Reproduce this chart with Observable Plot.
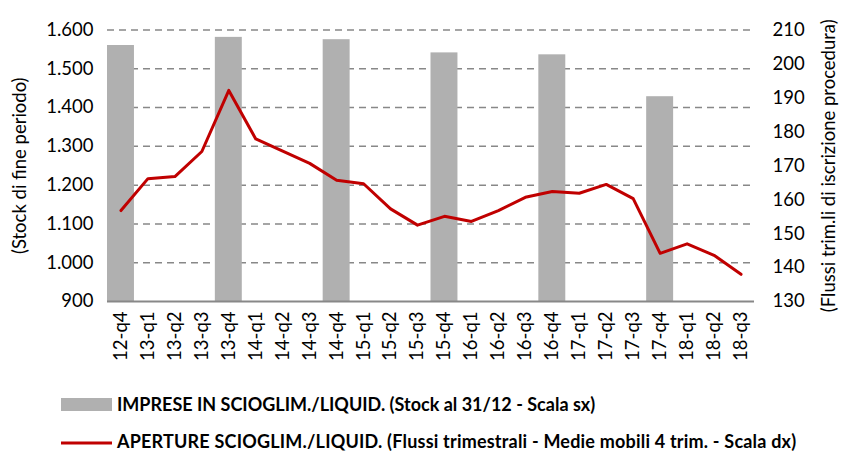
<!DOCTYPE html>
<html><head><meta charset="utf-8">
<script src="https://cdn.jsdelivr.net/npm/d3@7"></script>
<script src="https://cdn.jsdelivr.net/npm/@observablehq/plot@0.6"></script>
<style>
body{margin:0;background:#fff;}
#chart svg{display:block;}
</style></head><body><div id="chart"></div><div id="legend"></div>
<script>
const quarters = ["12-q4","13-q1","13-q2","13-q3","13-q4","14-q1","14-q2","14-q3","14-q4","15-q1","15-q2","15-q3","15-q4","16-q1","16-q2","16-q3","16-q4","17-q1","17-q2","17-q3","17-q4","18-q1","18-q2","18-q3"];
const stockQuarters = ["12-q4","13-q4","14-q4","15-q4","16-q4","17-q4"];
const stockValues = [1560,1581,1575,1541,1536,1428];
const flowValues = [156.8,166.2,166.8,174.2,192.2,177.9,174.3,170.7,165.7,164.7,157.3,152.5,155.1,153.6,156.8,160.7,162.4,161.9,164.5,160.3,144.2,147.0,143.6,138.0];
const leftTicks = [900,1000,1100,1200,1300,1400,1500,1600];
const rightTicks = [130,140,150,160,170,180,190,200,210];
const stockName = "IMPRESE IN SCIOGLIM./LIQUID. (Stock al 31/12 - Scala sx)";
const flowName = "APERTURE SCIOGLIM./LIQUID. (Flussi trimestrali - Medie mobili 4 trim. - Scala dx)";

const toLeft = v => 900 + (v - 130) * 700 / 80;
const toRight = y => 130 + (y - 900) * 80 / 700;
const itFmt = d => d >= 1000 ? d3.format(",")(d).replace(",", ".") : String(d);

const stock = stockQuarters.map((q, i) => ({q, v: stockValues[i]}));
const flow = quarters.map((q, i) => ({q, v: flowValues[i]}));

const FS = 18.5;
const chart = Plot.plot({
  width: 842, height: 383,
  marginTop: 29.5, marginBottom: 82, marginLeft: 107, marginRight: 88,
  style: {fontFamily: "Lato, sans-serif", fontSize: FS + "px", color: "#000", background: "#fff"},
  x: {type: "band", domain: quarters, padding: 0, round: false},
  y: {domain: [900, 1600]},
  marks: [
    Plot.ruleY(leftTicks.filter(d => d > 900), {stroke: "#888", strokeWidth: 1.5, strokeDasharray: "7,5"}),
    Plot.barY(stock, {x: "q", y1: () => 900, y2: "v", fill: "#b0b0b0"}),
    Plot.ruleY([900], {stroke: "#888", strokeWidth: 2}),
    Plot.line(flow, {x: "q", y: d => toLeft(d.v), stroke: "#c00000", strokeWidth: 3}),
    Plot.axisX({tickRotate: -90, tickSize: 0, tickPadding: 10, fontSize: FS, label: null}),
    Plot.axisY({anchor: "left", ticks: leftTicks, tickFormat: itFmt, tickSize: 0, tickPadding: 14, fontSize: FS,
      label: "(Stock di fine periodo)", labelAnchor: "center", labelArrow: "none", labelOffset: 95}),
    Plot.axisY({anchor: "right", ticks: rightTicks.map(toLeft), tickFormat: d => String(Math.round(toRight(d))), tickSize: 0, tickPadding: 18, fontSize: FS,
      label: "(Flussi trim.li di iscrizione procedura)", labelAnchor: "center", labelArrow: "none", labelOffset: 80})
  ]
});
document.getElementById("chart").appendChild(chart);

// legend below the plot
const leg = d3.select("#legend").append("svg").attr("width", 842).attr("height", 69)
  .style("display", "block").style("font-family", "Lato, sans-serif");
leg.append("rect").attr("x", 61).attr("y", 15).attr("width", 51).attr("height", 13).attr("fill", "#b0b0b0");
leg.append("text").attr("x", 117).attr("y", 28).attr("font-weight", "bold").attr("font-size", 18).attr("fill", "#000").text(stockName);
leg.append("line").attr("x1", 61).attr("x2", 112).attr("y1", 60).attr("y2", 60).attr("stroke", "#c00000").attr("stroke-width", 3);
leg.append("text").attr("x", 117).attr("y", 64.5).attr("font-weight", "bold").attr("font-size", 18).attr("letter-spacing", "0.2px").attr("fill", "#000").text(flowName);
</script></body></html>
